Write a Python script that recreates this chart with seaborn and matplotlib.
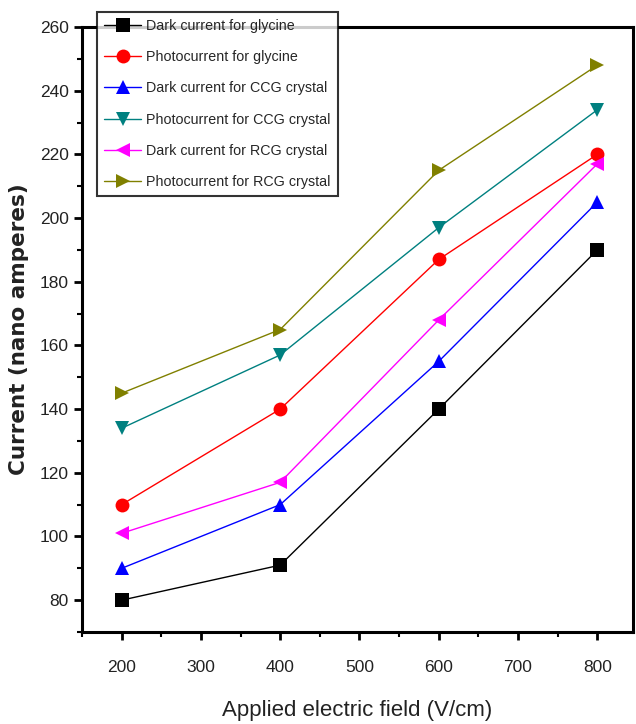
import matplotlib
matplotlib.use("Agg")
import matplotlib.pyplot as plt
import seaborn as sns
import pandas as pd
from matplotlib.ticker import MultipleLocator

sns.set_theme(style="white")
plt.rcParams['font.family'] = ['Liberation Sans', 'DejaVu Sans']

field = [200, 400, 600, 800]
series_names = [
    "Dark current for glycine",
    "Photocurrent for glycine",
    "Dark current for CCG crystal",
    "Photocurrent for CCG crystal",
    "Dark current for RCG crystal",
    "Photocurrent for RCG crystal",
]
dark_glycine = [80, 91, 140, 190]
photo_glycine = [110, 140, 187, 220]
dark_ccg = [90, 110, 155, 205]
photo_ccg = [134, 157, 197, 234]
dark_rcg = [101, 117, 168, 217]
photo_rcg = [145, 165, 215, 248]
values = [dark_glycine, photo_glycine, dark_ccg, photo_ccg, dark_rcg, photo_rcg]

colors = ["#000000", "#FF0000", "#0000FF", "#008080", "#FF00FF", "#808000"]
markers = ["s", "o", "^", "v", "<", ">"]

rows = []
for n, vals in zip(series_names, values):
    for x, y in zip(field, vals):
        rows.append({"field": x, "current": y, "series": n})
df = pd.DataFrame(rows)

fig = plt.figure(figsize=(6.36, 7.24), dpi=100)
ax = fig.add_axes([82/636, 1-632/724, (633-82)/636, (632-27)/724])

sns.lineplot(data=df, x="field", y="current", hue="series", style="series",
             hue_order=series_names, style_order=series_names,
             palette=dict(zip(series_names, colors)),
             markers=dict(zip(series_names, markers)), dashes=False,
             markersize=10, linewidth=1.0, markeredgewidth=0, ax=ax)

ax.set_xlim(150, 845)
ax.set_ylim(70, 260)
ax.xaxis.set_major_locator(MultipleLocator(100))
ax.xaxis.set_minor_locator(MultipleLocator(50))
ax.yaxis.set_major_locator(MultipleLocator(20))
ax.yaxis.set_minor_locator(MultipleLocator(10))
ax.tick_params(axis="both", which="major", direction="out", length=6, width=2,
               labelsize=12.5, color="black", labelcolor="#222222",
               bottom=True, left=True)
ax.tick_params(axis="both", which="minor", direction="out", length=3.5, width=1.5,
               color="black", bottom=True, left=True)
ax.tick_params(axis="x", pad=14)
for s in ax.spines.values():
    s.set_color("black")
    s.set_linewidth(2.2)

ax.set_xlabel("Applied electric field (V/cm)", fontsize=16, color="#222222", labelpad=18)
ax.set_ylabel("Current (nano amperes)", fontsize=15.5, fontweight="bold",
              family=["DejaVu Sans"], color="#222222", labelpad=8)

leg = ax.legend(loc="upper left", bbox_to_anchor=(97/636, 1-12/724),
                bbox_transform=fig.transFigure, fontsize=10.3, frameon=True,
                fancybox=False, handlelength=2.6, borderpad=0.5,
                labelspacing=1.2, handletextpad=0.35, borderaxespad=0)
leg.get_frame().set_edgecolor("black")
leg.get_frame().set_linewidth(1.5)
leg.set_zorder(5)

fig.savefig("out.png", dpi=100)
